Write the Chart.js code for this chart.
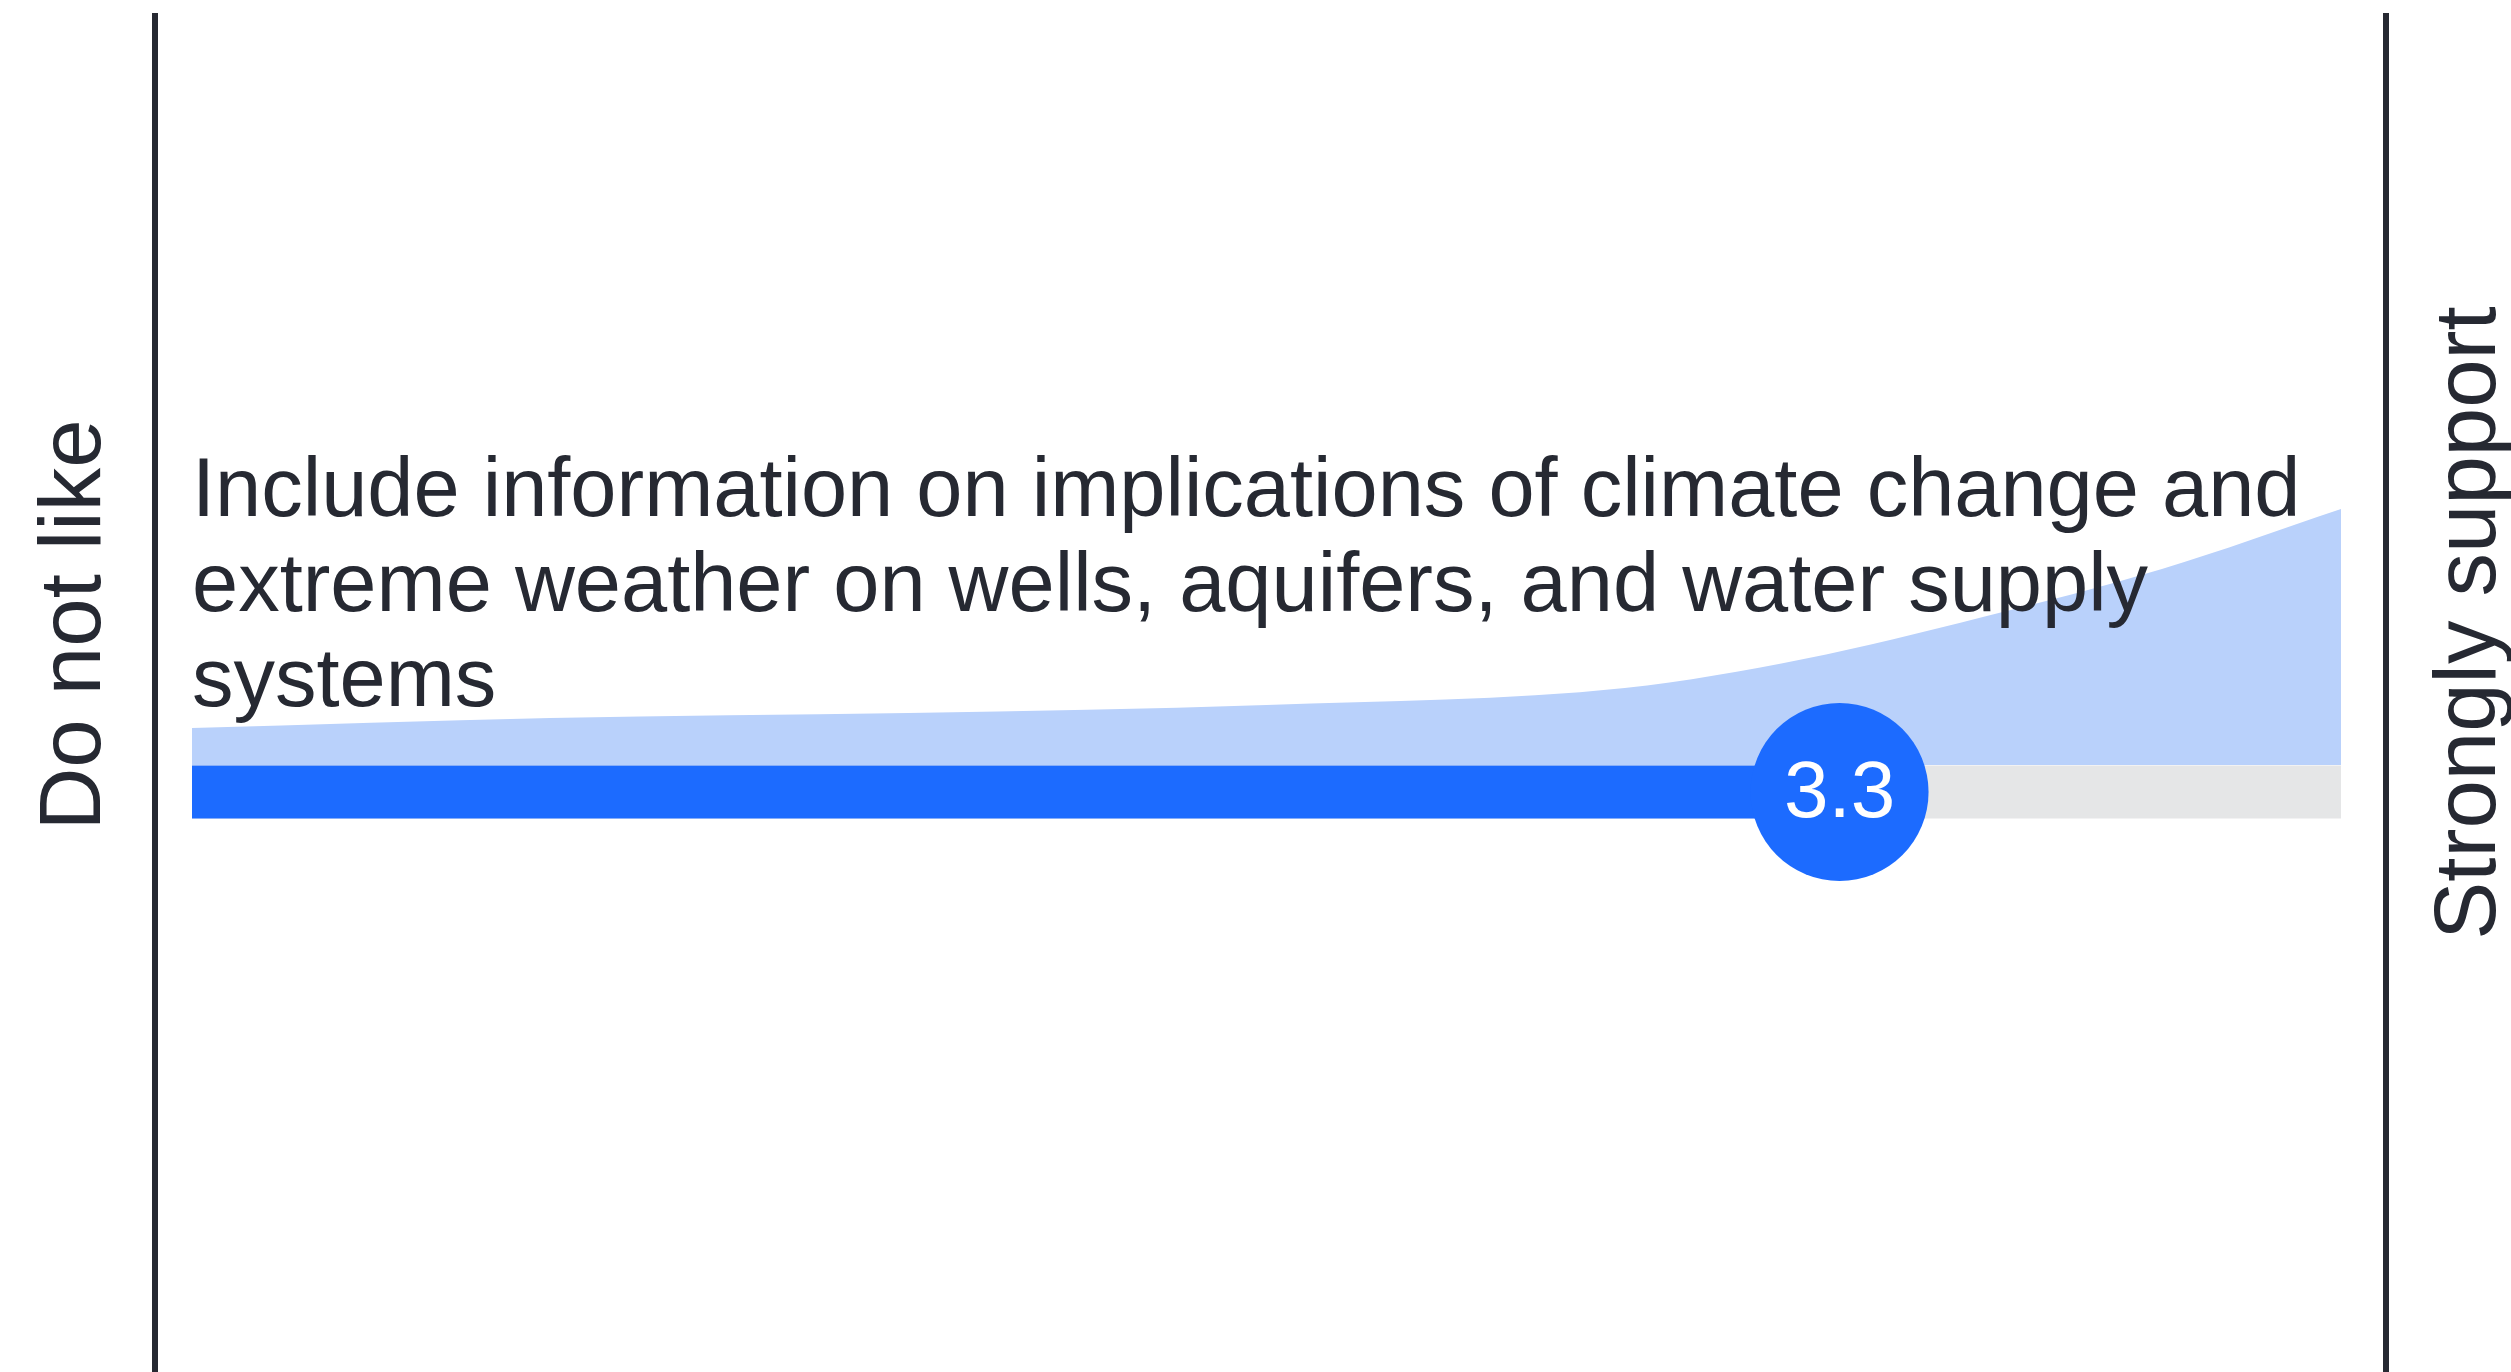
<!DOCTYPE html>
<html lang="en">
<head>
<meta charset="utf-8">
<title>Support score</title>
<script src="https://cdn.jsdelivr.net/npm/chart.js"></script>
<style>
    html, body {
        margin: 0;
        padding: 0;
        background: #ffffff;
        overflow: hidden;
    }
    #scoreChart {
        display: block;
    }
</style>
</head>
<body>
<canvas id="scoreChart" width="2511" height="1372"></canvas>
<script>
// answer scale and result
const scaleMin = 1;
const scaleMax = 4;
const meanScore = 3.3;

// spread of answers along the scale (shape of the light blue area)
const densityPositions = [1, 1.5, 2, 2.5, 3, 3.25, 3.5, 3.75, 4];
const densityValues = [37, 47, 52, 60, 77, 106, 148, 196, 256];

const questionLines = [
    'Include information on implications of climate change and',
    'extreme weather on wells, aquifers, and water supply',
    'systems'
];
const lowLabel = 'Do not like';
const highLabel = 'Strongly support';

const textColor = '#262932';
const mainBlue = '#1c6bff';
const lightBlue = '#b9d1fb';
const trackGrey = '#e5e6e7';
const fontFamily = '"Liberation Sans", Arial, sans-serif';

// pixel layout of the plot area
const frameLeft = 155;
const frameRight = 2386;
const insetLeft = 37;
const insetRight = 45;
const baselineY = 765;
const barCenter = -27;

function axisLimits() {
    const inner = (frameRight - insetRight) - (frameLeft + insetLeft);
    const perPixel = (scaleMax - scaleMin) / inner;
    return {
        min: scaleMin - insetLeft * perPixel,
        max: scaleMax + insetRight * perPixel
    };
}

const frameAndText = {
    id: 'frameAndText',
    beforeDraw(chart) {
        const ctx = chart.ctx;
        const area = chart.chartArea;
        ctx.save();
        ctx.fillStyle = '#ffffff';
        ctx.fillRect(0, 0, chart.width, chart.height);
        ctx.strokeStyle = textColor;
        ctx.lineWidth = 6;
        [area.left, area.right].forEach(x => {
            ctx.beginPath();
            ctx.moveTo(x, area.top);
            ctx.lineTo(x, area.bottom);
            ctx.stroke();
        });

        ctx.fillStyle = textColor;
        ctx.font = '87px ' + fontFamily;
        ctx.textAlign = 'center';
        ctx.textBaseline = 'alphabetic';
        ctx.save();
        ctx.translate(area.left - 55, 625);
        ctx.rotate(-Math.PI / 2);
        ctx.fillText(lowLabel, 0, 0);
        ctx.restore();
        ctx.save();
        ctx.translate(area.right + 109, 623);
        ctx.rotate(-Math.PI / 2);
        ctx.fillText(highLabel, 0, 0);
        ctx.restore();
        ctx.restore();
    },
    afterDatasetsDraw(chart) {
        const ctx = chart.ctx;
        const dot = chart.getDatasetMeta(0).data[0];
        ctx.save();
        ctx.fillStyle = '#ffffff';
        ctx.font = '80px ' + fontFamily;
        ctx.textAlign = 'center';
        ctx.textBaseline = 'middle';
        ctx.fillText(meanScore.toFixed(1), dot.x, dot.y + 3);

        // question text sits on top of the light blue area
        ctx.fillStyle = textColor;
        ctx.font = '83px ' + fontFamily;
        ctx.textAlign = 'left';
        ctx.textBaseline = 'alphabetic';
        const textX = chart.scales.x.getPixelForValue(scaleMin);
        questionLines.forEach((line, i) => {
            ctx.fillText(line, textX, 516 + i * 95);
        });
        ctx.restore();
    }
};

function buildChart() {
    const ctx = document.getElementById('scoreChart').getContext('2d');
    const limits = axisLimits();
    const areaPoints = densityPositions.map((x, i) => ({ x: x, y: densityValues[i] }));

    return new Chart(ctx, {
        type: 'line',
        data: {
            datasets: [
                {
                    type: 'scatter',
                    data: [{ x: meanScore, y: barCenter }],
                    backgroundColor: mainBlue,
                    borderWidth: 0,
                    pointRadius: 89,
                    pointHoverRadius: 89,
                    order: 0
                },
                {
                    data: [{ x: scaleMin, y: barCenter }, { x: meanScore, y: barCenter }],
                    borderColor: mainBlue,
                    borderWidth: 53,
                    borderCapStyle: 'butt',
                    pointRadius: 0,
                    tension: 0,
                    order: 1
                },
                {
                    data: [{ x: scaleMin, y: barCenter }, { x: scaleMax, y: barCenter }],
                    borderColor: trackGrey,
                    borderWidth: 53,
                    borderCapStyle: 'butt',
                    pointRadius: 0,
                    tension: 0,
                    order: 2
                },
                {
                    data: areaPoints,
                    borderWidth: 0,
                    borderColor: lightBlue,
                    backgroundColor: lightBlue,
                    fill: 'origin',
                    pointRadius: 0,
                    cubicInterpolationMode: 'monotone',
                    order: 3
                }
            ]
        },
        options: {
            responsive: false,
            animation: false,
            events: [],
            devicePixelRatio: 1,
            layout: {
                autoPadding: false,
                padding: { left: frameLeft, right: 2511 - frameRight, top: 13, bottom: 0 }
            },
            scales: {
                x: { type: 'linear', min: limits.min, max: limits.max, display: false },
                y: { type: 'linear', min: -(1372 - baselineY), max: baselineY - 13, display: false }
            },
            plugins: {
                legend: { display: false },
                tooltip: { enabled: false }
            }
        },
        plugins: [frameAndText]
    });
}

buildChart();
</script>
</body>
</html>
